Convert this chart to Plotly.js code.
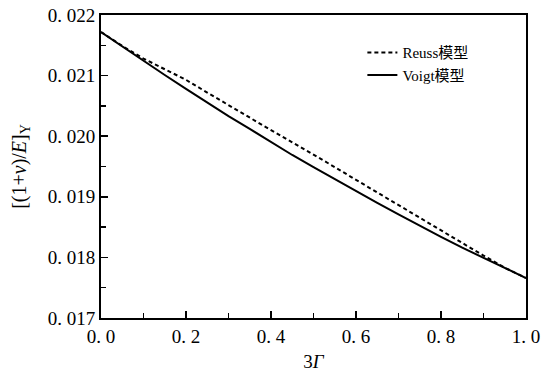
<!DOCTYPE html>
<html>
<head>
<meta charset="utf-8">
<script src="https://cdn.plot.ly/plotly-3.0.1.min.js"></script>
<style>html,body{margin:0;padding:0;background:#fff;}#chart{width:542px;height:375px;}</style>
</head>
<body>
<div id="chart"></div>
<script>
const gamma3 = [0, 0.05, 0.10, 0.15, 0.20, 0.25, 0.30, 0.35, 0.40, 0.45, 0.50, 0.55, 0.60, 0.65, 0.70, 0.75, 0.80, 0.85, 0.90, 0.95, 1.00];
const reuss = [0.02172, 0.02149, 0.02128, 0.02110, 0.02093, 0.02072, 0.02051, 0.02031, 0.02010, 0.01990, 0.01970, 0.01949, 0.01928, 0.01907, 0.01886, 0.01865, 0.01845, 0.01824, 0.01803, 0.01783, 0.01766];
const voigt = [0.02172, 0.02148, 0.02124, 0.02101, 0.02078, 0.02055, 0.02033, 0.02012, 0.01990, 0.01969, 0.01949, 0.01929, 0.01909, 0.01890, 0.01871, 0.01852, 0.01834, 0.01816, 0.01799, 0.01782, 0.01766];
const xTickVals = [0, 0.2, 0.4, 0.6, 0.8, 1.0];
const xTickText = ['0. 0', '0. 2', '0. 4', '0. 6', '0. 8', '1. 0'];
const yTickVals = [0.017, 0.018, 0.019, 0.020, 0.021, 0.022];
const yTickText = ['0. 017', '0. 018', '0. 019', '0. 020', '0. 021', '0. 022'];
const names = ['Reuss模型', 'Voigt模型'];

const serif = 'Liberation Serif, Noto Sans CJK SC, serif';
const traces = [
  {x: gamma3, y: reuss, mode: 'lines', name: names[0], line: {color: '#000', width: 2, dash: '4px,3px'}},
  {x: gamma3, y: voigt, mode: 'lines', name: names[1], line: {color: '#000', width: 2}}
];
const axisCommon = {
  showgrid: false, zeroline: false, showline: true, linecolor: '#000', linewidth: 2,
  mirror: true, ticks: 'inside', ticklen: 7, tickwidth: 1.5, tickcolor: '#000',
  tickfont: {family: serif, size: 19, color: '#000'}, tickmode: 'array'
};
const layout = {
  width: 542, height: 375,
  margin: {l: 101, r: 16, t: 15, b: 57},
  paper_bgcolor: '#fff', plot_bgcolor: '#fff',
  font: {family: serif},
  showlegend: true,
  legend: {x: 0.615, y: 0.93, xanchor: 'left', yanchor: 'top', bgcolor: 'rgba(0,0,0,0)',
           font: {family: serif, size: 15, color: '#000'}, tracegroupgap: 0, itemwidth: 30},
  xaxis: Object.assign({}, axisCommon, {range: [0, 1], tickvals: xTickVals, ticktext: xTickText,
    minor: {dtick: 0.1, ticks: 'inside', ticklen: 5, tickwidth: 1.5, tickcolor: '#000', showgrid: false},
    title: {text: '3<i>Γ</i>', font: {family: serif, size: 19, color: '#000'}, standoff: 9}}),
  yaxis: Object.assign({}, axisCommon, {range: [0.017, 0.022], tickvals: yTickVals, ticktext: yTickText,
    minor: {dtick: 0.0005, ticks: 'inside', ticklen: 5, tickwidth: 1.5, tickcolor: '#000', showgrid: false},
    title: {text: '[(1+<i>ν</i>)/<i>E</i>]<sub>Y</sub>', font: {family: serif, size: 20, color: '#000'}, standoff: 16}})
};
Plotly.newPlot('chart', traces, layout, {staticPlot: true, displayModeBar: false});
</script>
</body>
</html>
